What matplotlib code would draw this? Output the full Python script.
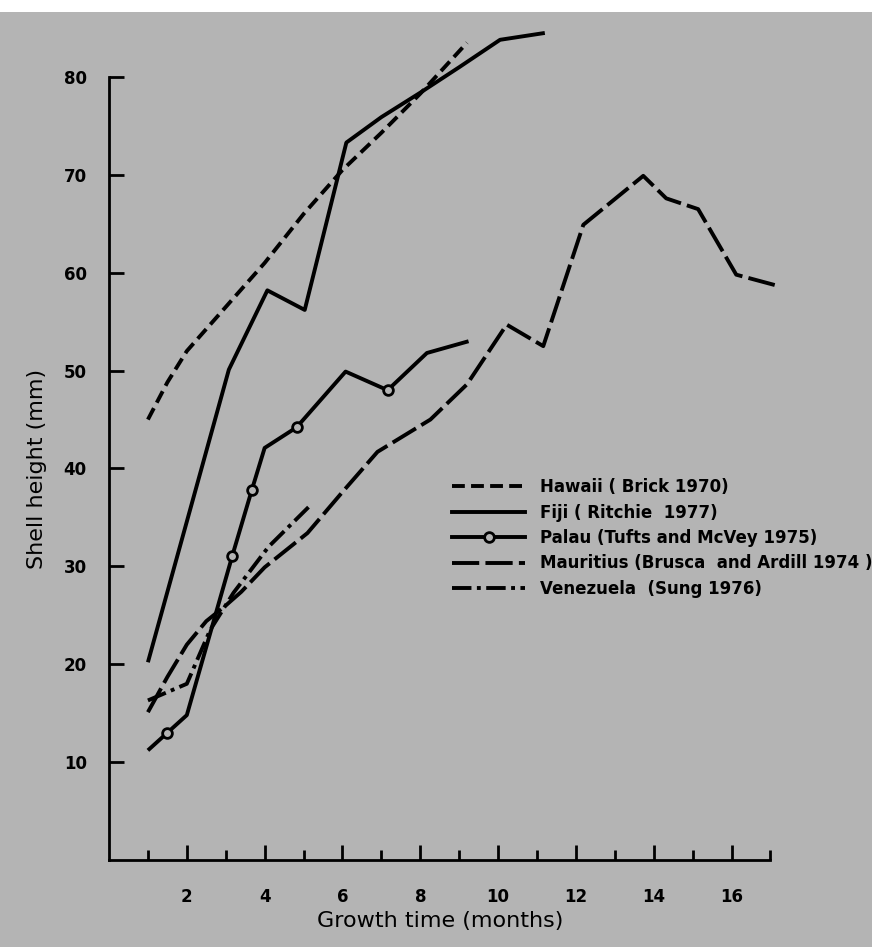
# Shell height vs growth time, several localities
import matplotlib
matplotlib.use('Agg')
import matplotlib.pyplot as plt
from matplotlib.lines import Line2D
from matplotlib.patches import Rectangle

#%% Data

hawaii_x    = [1, 1.5, 2, 3, 4, 5, 6, 7, 8, 9.2]
hawaii_y    = [45, 48.8, 52, 56.5, 61, 66, 70.5, 74.3, 78.3, 83.5]

fiji_x      = [1, 3.08, 4.07, 5.03, 6.1, 7, 8, 9, 10.05, 11.2]
fiji_y      = [20.2, 50.1, 58.2, 56.2, 73.3, 75.9, 78.4, 81, 83.8, 84.5]

palau_x     = [1, 1.5, 2.0, 3.17, 3.67, 4.0, 4.82, 6.08, 7.16, 8.17, 9.24]
palau_y     = [11.2, 13.0, 14.8, 31.1, 37.8, 42.1, 44.2, 49.9, 48.0, 51.8, 53.0]
palau_marks = [1, 3, 4, 6, 8]

mauritius_x = [1, 1.5, 2, 2.5, 3, 3.4, 4, 5.1, 6, 6.9, 8.26, 9.2, 10.22,
               11.16, 12.19, 13.73, 14.32, 15.14, 16.12, 17.15]
mauritius_y = [15.1, 18.7, 22.0, 24.4, 26.0, 27.4, 29.9, 33.4, 37.6, 41.7, 45.0,
               48.6, 54.7, 52.5, 64.9, 69.9, 67.6, 66.5, 59.8, 58.7]

venezuela_x = [1, 2, 2.6, 3.2, 4.1, 5.14]
venezuela_y = [16.3, 18.0, 23.5, 27.3, 32.0, 36.1]

labels = ['Hawaii ( Brick 1970)',
          'Fiji ( Ritchie  1977)',
          'Palau (Tufts and McVey 1975)',
          'Mauritius (Brusca  and Ardill 1974 )',
          'Venezuela  (Sung 1976)']

#%% Style

bg      = '#b4b4b4'
lw      = 2.8
dash_h  = (3.3, 1.6)
dash_m  = (7, 1.6)
dash_v  = (5, 1.4, 1.0, 1.4)

fig = plt.figure(figsize=(8.72, 9.47), dpi=100, facecolor=bg)
ax  = fig.add_axes([0.125, 0.0919, 0.7586, 0.8268])
ax.set_facecolor(bg)

# white strip of the scan at the top
fig.add_artist(Rectangle((0, 0.987), 1, 0.013, transform=fig.transFigure,
                         facecolor='white', edgecolor='none'))

kw = dict(color='black', lw=lw, clip_on=False, solid_capstyle='butt',
          dash_capstyle='butt')

ax.plot(hawaii_x, hawaii_y, dashes=dash_h, **kw)
ax.plot(fiji_x, fiji_y, **kw)
ax.plot(palau_x, palau_y, **kw)
ax.plot([palau_x[i] for i in palau_marks], [palau_y[i] for i in palau_marks],
        ls='none', marker='o', ms=7, mew=2.0, mfc=bg, mec='black', clip_on=False)
ax.plot(mauritius_x, mauritius_y, dashes=dash_m, **kw)
ax.plot(venezuela_x, venezuela_y, dashes=dash_v, **kw)

#%% Axes

ax.set_xlim(0, 17)
ax.set_ylim(0, 80)
ax.spines['top'].set_visible(False)
ax.spines['right'].set_visible(False)
ax.spines['left'].set_linewidth(2)
ax.spines['bottom'].set_linewidth(2)

ax.set_xticks(range(2, 17, 2))
ax.set_xticks(range(1, 18, 2), minor=True)
ax.set_yticks(range(10, 81, 10))
ax.tick_params(which='major', direction='in', length=11, width=2,
               labelsize=12, pad=20)
ax.tick_params(which='minor', direction='in', length=7, width=2)
ax.tick_params(axis='y', pad=16)
for t in ax.get_xticklabels() + ax.get_yticklabels():
    t.set_fontweight('bold')

ax.set_xlabel('Growth time (months)', fontsize=16, labelpad=4)
ax.set_ylabel('Shell height (mm)', fontsize=16, labelpad=12)

#%% Legend

handles = [Line2D([], [], color='black', lw=lw, dashes=dash_h),
           Line2D([], [], color='black', lw=lw),
           Line2D([], [], color='black', lw=lw, marker='o', ms=7, mew=2.0,
                  mfc=bg, mec='black'),
           Line2D([], [], color='black', lw=lw, dashes=dash_m),
           Line2D([], [], color='black', lw=lw, dashes=dash_v)]

fig.legend(handles, labels, loc='upper left',
           bbox_to_anchor=(452 / 872, 1 - 478 / 947),
           frameon=False, borderpad=0, borderaxespad=0, handlelength=4.4,
           handletextpad=0.9, labelspacing=0.45, numpoints=1,
           prop=dict(size=12, weight='bold'))

fig.savefig('out.png', dpi=100, facecolor=bg)
